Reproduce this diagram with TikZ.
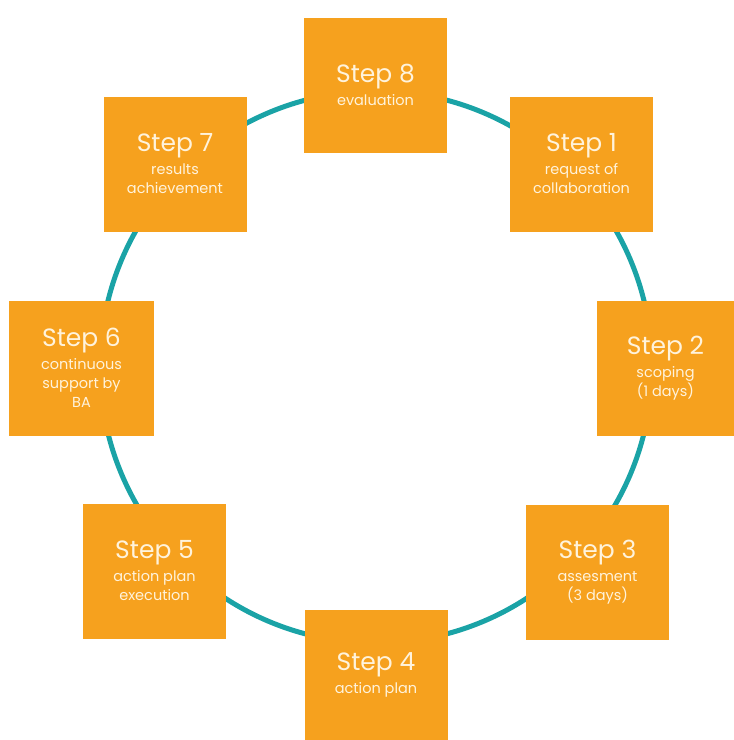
\documentclass[tikz,border=0pt]{standalone}
\usepackage{fontspec}
\setmainfont{Poppins}
\definecolor{stepfill}{HTML}{F6A11E}
\definecolor{ringcol}{HTML}{1AA3A6}
\definecolor{steptext}{HTML}{FFF3DC}
\tikzset{
  stepbox/.style={fill=stepfill, draw=none, minimum width=143pt, minimum height=135pt,
    inner sep=0pt, text=steptext, align=center, font=\fontsize{14.5}{19}\selectfont},
  ring/.style={draw=ringcol, line width=5pt}
}
\newcommand{\steptitle}[1]{{\fontsize{25}{28}\selectfont #1}\\[4pt]}
\begin{document}
\begin{tikzpicture}[x=1pt,y=-1pt]
  \useasboundingbox (0,0) rectangle (734,740);
  \fill[white] (0,0) rectangle (734,740);
  % the cycle ring behind the steps
  \draw[ring] (376,367) circle[radius=276];
  % the eight steps
  \node[stepbox] (s8) at (375.5,85)  {\steptitle{Step 8}evaluation};
  \node[stepbox] (s1) at (581.5,164) {\steptitle{Step 1}request of\\collaboration};
  \node[stepbox, minimum width=138pt] (s2) at (665.5,368) {\steptitle{Step 2}scoping\\(1 days)};
  \node[stepbox] (s3) at (597.5,572) {\steptitle{Step 3}assesment\\(3 days)};
  \node[stepbox, minimum height=130pt] (s4) at (376,675) {\steptitle{Step 4}action plan};
  \node[stepbox] (s5) at (154.5,571) {\steptitle{Step 5}action plan\\execution};
  \node[stepbox, minimum width=145pt] (s6) at (81.5,368) {\steptitle{Step 6}continuous\\support by\\BA};
  \node[stepbox] (s7) at (175,164) {\steptitle{Step 7}results\\achievement};
\end{tikzpicture}
\end{document}
